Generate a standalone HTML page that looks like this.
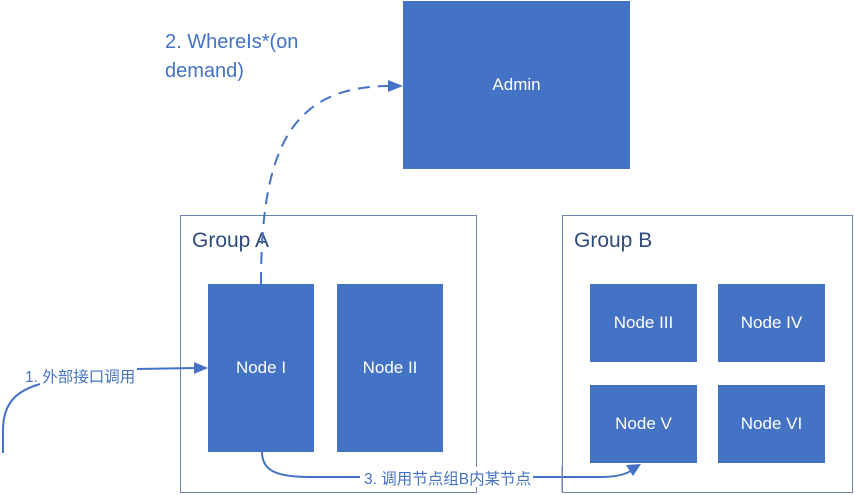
<!DOCTYPE html>
<html><head><meta charset="utf-8"><style>
body{margin:0;width:855px;height:495px;background:#fff;overflow:hidden;position:relative;font-family:"Liberation Sans","Noto Sans CJK SC",sans-serif}
.b{position:absolute;background:#4472c4;color:#fff;font-size:17px;display:flex;align-items:center;justify-content:center}
.g{position:absolute;border:1.5px solid #6d83ad;box-sizing:border-box}
.gl{position:absolute;color:#2f4b7c;font-size:21px}
.t{position:absolute;color:#4472c4;white-space:nowrap}
</style></head><body>
<div class="g" style="left:180px;top:215px;width:297px;height:278px"></div>
<div class="g" style="left:562px;top:215px;width:291px;height:278px"></div>
<div class="gl" style="left:192px;top:229px">Group A</div>
<div class="gl" style="left:574px;top:229px">Group B</div>
<div class="b" style="left:403px;top:1px;width:227px;height:168px">Admin</div>
<div class="b" style="left:208px;top:284px;width:106px;height:168px">Node I</div>
<div class="b" style="left:337px;top:284px;width:106px;height:168px">Node II</div>
<div class="b" style="left:590px;top:284px;width:107px;height:78px">Node III</div>
<div class="b" style="left:718px;top:284px;width:107px;height:78px">Node IV</div>
<div class="b" style="left:590px;top:385px;width:107px;height:78px">Node V</div>
<div class="b" style="left:718px;top:385px;width:107px;height:78px">Node VI</div>
<svg style="position:absolute;left:0;top:0" width="855" height="495">
<g fill="none" stroke="#4472c4" stroke-width="2">
<path d="M261,284 C261,150 290,86 390,86" stroke-dasharray="12,8"/>
<path d="M137,369 L196,368"/>
<path d="M3,453 L3,430 C3,400 20,390 40,384"/>
<path d="M262,452 C262,470 275,477 310,477 L600,477 C620,477 628,473 632,470"/>
</g>
<g fill="#4472c4">
<polygon points="403,86 388,80 388,92"/>
<polygon points="208,368 194,362 194,374"/>
<polygon points="641,464 626,465 633,476"/>
</g>
<rect x="360" y="467" width="173" height="20" fill="#fff"/>
<rect x="561.5" y="466" width="1.5" height="26" fill="#6d83ad"/>
</svg>
<div class="t" style="left:165px;top:28px;font-size:20px;line-height:29px">2. WhereIs*(on<br>demand)</div>
<div class="t" style="left:25px;top:365px;font-size:15.5px">1. 外部接口调用</div>
<div class="t" style="left:364px;top:467px;font-size:15.5px">3. 调用节点组B内某节点</div>
</body></html>
